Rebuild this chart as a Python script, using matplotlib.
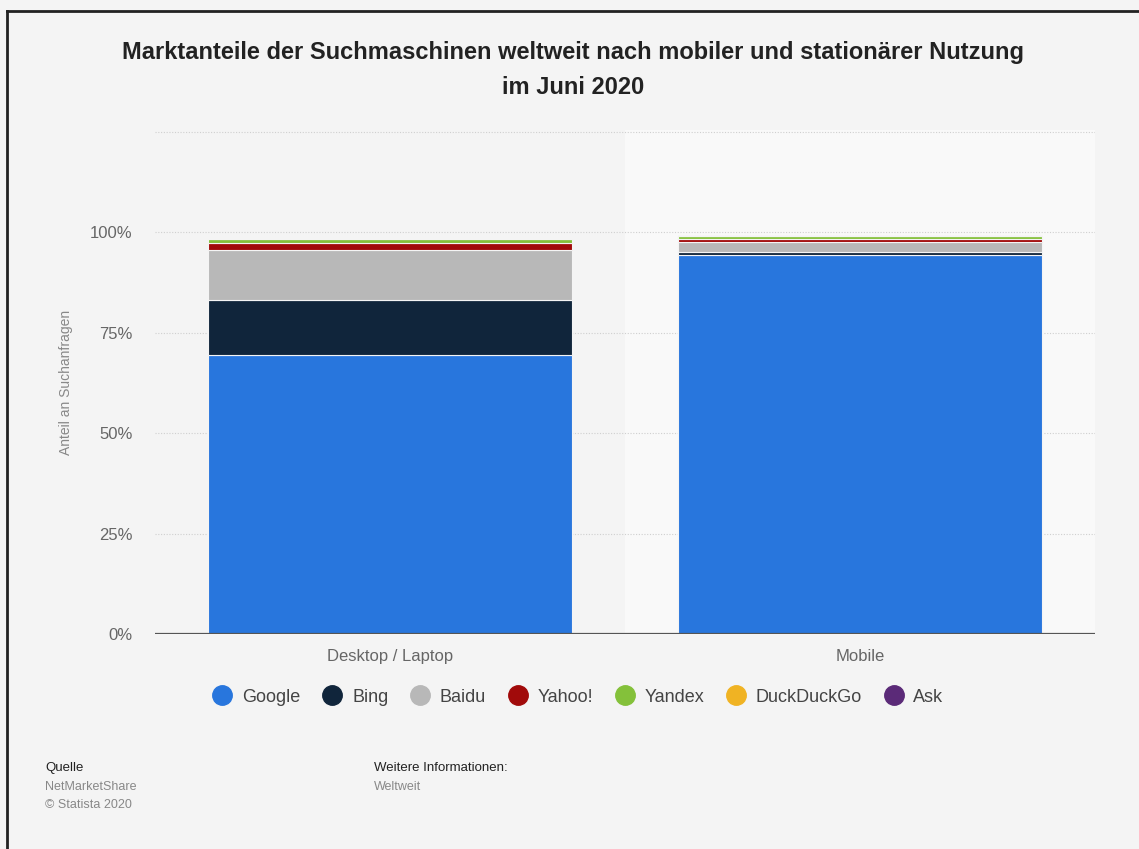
import matplotlib.pyplot as plt
from matplotlib.lines import Line2D
from matplotlib.patches import Rectangle

plt.rcParams["font.family"] = ["Liberation Sans", "DejaVu Sans"]

categories = ["Desktop / Laptop", "Mobile"]
engines = ["Google", "Bing", "Baidu", "Yahoo!", "Yandex", "DuckDuckGo", "Ask"]
shares = {
    "Google": [69.4, 94.4],
    "Bing": [13.7, 0.6],
    "Baidu": [12.4, 2.5],
    "Yahoo!": [1.8, 0.7],
    "Yandex": [0.9, 0.8],
    "DuckDuckGo": [0.1, 0.1],
    "Ask": [0.05, 0.05],
}
colors = ["#2876dd", "#10253b", "#b8b8b8", "#a10a0a", "#84c13a", "#f0b323", "#5b2a78"]
yticks = [0, 25, 50, 75, 100]

BG = "#f4f4f4"
W, H = 1139, 849
fig = plt.figure(figsize=(W / 100, H / 100), dpi=100, facecolor=BG)
ax = fig.add_axes([155 / W, 1 - 634 / H, (1095 - 155) / W, (634 - 130) / H])
ax.set_facecolor(BG)

x = list(range(len(categories)))
ax.set_xlim(-0.5, len(categories) - 0.5)
ax.set_ylim(0, 125.4)

# lighter band behind every second category
for i in x:
    if i % 2 == 1:
        ax.add_patch(Rectangle((i - 0.5, 0), 1, 125.4, color="#f9f9f9", zorder=0, lw=0))

for yv in yticks[1:] + [125]:
    ax.axhline(yv, color="#cfcfcf", linestyle=(0, (1, 1.5)), linewidth=0.8, zorder=1)

bottom = [0.0] * len(categories)
for eng, col in zip(engines, colors):
    vals = shares[eng]
    ax.bar(x, vals, bottom=bottom, width=0.775, color=col, edgecolor="#f4f4f4",
           linewidth=0.8, zorder=2)
    bottom = [b + v for b, v in zip(bottom, vals)]

ax.axhline(0, color="#555555", linewidth=1.6, zorder=3)
for s in ax.spines.values():
    s.set_visible(False)
ax.set_xticks(x)
ax.set_xticklabels(categories, fontsize=12, color="#666666")
ax.set_yticks(yticks)
ax.set_yticklabels([f"{v}%" for v in yticks], fontsize=12, color="#666666")
ax.tick_params(length=0, pad=16)
ax.tick_params(axis="x", pad=11)
ax.set_ylabel("Anteil an Suchanfragen", fontsize=10, color="#888888", labelpad=12)

fig.text(573 / W, 1 - 52 / H, "Marktanteile der Suchmaschinen weltweit nach mobiler und stationärer Nutzung",
         ha="center", va="center", fontsize=17, fontweight="bold", color="#222222")
fig.text(573 / W, 1 - 88 / H, "im Juni 2020",
         ha="center", va="center", fontsize=17, fontweight="bold", color="#222222")

handles = [Line2D([], [], marker="o", linestyle="", markersize=14, color=c) for c in colors]
fig.legend(handles, engines, loc="center", bbox_to_anchor=(574 / W, 1 - 697 / H), ncol=7,
           frameon=False, fontsize=13, handletextpad=0.1, columnspacing=0.75,
           labelcolor="#444444")

fig.text(45 / W, 1 - 768 / H, "Quelle", fontsize=9.5, color="#222222", va="center")
fig.text(45 / W, 1 - 787 / H, "NetMarketShare", fontsize=9, color="#888888", va="center")
fig.text(45 / W, 1 - 805 / H, "© Statista 2020", fontsize=9, color="#888888", va="center")
fig.text(374 / W, 1 - 768 / H, "Weitere Informationen:", fontsize=9.5, color="#222222", va="center")
fig.text(374 / W, 1 - 787 / H, "Weltweit", fontsize=9, color="#888888", va="center")

# frame on top and left edge
fig.add_artist(Line2D([7 / W, 7 / W], [0, 1 - 11 / H], color="#222222", linewidth=2))
fig.add_artist(Line2D([7 / W, 1], [1 - 11 / H, 1 - 11 / H], color="#222222", linewidth=2))

fig.savefig("out.png", dpi=100, facecolor=BG)
